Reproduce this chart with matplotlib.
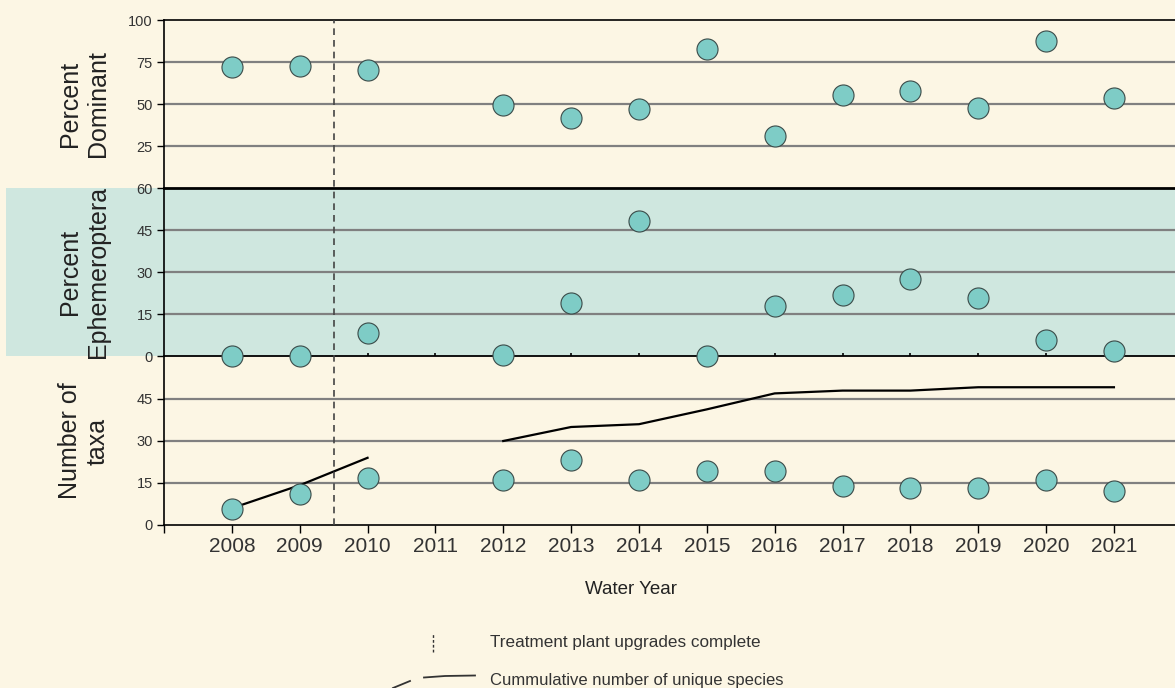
import numpy as np
import matplotlib
matplotlib.use("Agg")
import matplotlib.pyplot as plt
from matplotlib.lines import Line2D
from matplotlib.patches import Rectangle
import matplotlib.transforms as mtransforms

plt.rcParams['font.family'] = ['Liberation Sans', 'DejaVu Sans']

years = [2008, 2009, 2010, 2011, 2012, 2013, 2014, 2015, 2016, 2017, 2018, 2019, 2020, 2021]
pct_dominant = [72, 72.6, 70.2, np.nan, 49.4, 41.7, 47, 82.7, 31, 55.4, 57.7, 47.6, 87.5, 53.6]
pct_ephem = [0, 0, 8.2, np.nan, 0.5, 18.9, 48.2, 0, 17.9, 21.8, 27.5, 20.7, 5.7, 1.8]
num_taxa = [5.7, 11, 16.8, np.nan, 16, 23.2, 16, 19.3, 19.3, 14, 13.2, 13.2, 16, 12.1]
cumulative = [6, 14.2, 24, np.nan, 30, 35, 36, 41.3, 47, 48, 48, 49.2, 49.2, 49.2]

upgrade_year = 2009.5
panel_labels = ["Percent\nDominant", "Percent\nEphemeroptera", "Number of\ntaxa"]
top_ticks = [25, 50, 75, 100]
mid_ticks = [0, 15, 30, 45, 60]
bot_ticks = [0, 15, 30, 45]
legend_labels = ["Treatment plant upgrades complete", "Cummulative number of unique species"]

BG = "#FCF6E4"
TEAL_BG = "#CFE7DF"
MARK = "#7ECCC6"
GRID = "#808080"
TXT = "#333333"
MS = 230

W, H = 1175, 688
fig = plt.figure(figsize=(W / 100, H / 100), dpi=100)
fig.patch.set_facecolor(BG)

def fx(px):
    return px / W

def fy(py):
    return 1 - py / H

left = fx(164)
width = 1 - left
ph = 168 / H
ax_top = fig.add_axes([left, fy(188), width, ph])
ax_mid = fig.add_axes([left, fy(356), width, ph])
ax_bot = fig.add_axes([left, fy(525), width, ph])

# teal band behind middle panel
band = Rectangle((fx(6), fy(356)), 1 - fx(6), ph, transform=fig.transFigure,
                 facecolor=TEAL_BG, edgecolor='none', zorder=-5)
fig.add_artist(band)

xlim = (2007, 2021.9)
for ax in (ax_top, ax_mid, ax_bot):
    ax.set_facecolor('none')
    ax.set_xlim(*xlim)
    ax.spines['right'].set_visible(False)
    ax.spines['left'].set_color('black')
    ax.spines['left'].set_linewidth(1.2)
    ax.tick_params(axis='y', direction='out', length=5, width=1, color='black',
                   labelsize=10.5, labelcolor=TXT, pad=3)

# top panel
ax_top.set_ylim(0, 100)
ax_top.set_yticks(top_ticks)
for v in [25, 50, 75]:
    ax_top.axhline(v, color=GRID, lw=1.6, zorder=1)
ax_top.spines['top'].set_linewidth(1.2)
ax_top.spines['bottom'].set_linewidth(2.0)
ax_top.set_xticks([])
ax_top.scatter(years, pct_dominant, s=MS, facecolor=MARK, edgecolor='#3a4a48',
               linewidth=0.8, zorder=5, clip_on=False)

# middle panel
ax_mid.set_ylim(0, 60)
ax_mid.set_yticks(mid_ticks)
for v in [15, 30, 45]:
    ax_mid.axhline(v, color=GRID, lw=1.6, zorder=1)
ax_mid.spines['top'].set_visible(False)
ax_mid.spines['bottom'].set_linewidth(1.3)
ax_mid.set_xticks(years)
ax_mid.tick_params(axis='x', direction='in', length=2, width=1.2, labelbottom=False)
ax_mid.scatter(years, pct_ephem, s=MS, facecolor=MARK, edgecolor='#3a4a48',
               linewidth=0.8, zorder=5, clip_on=False)

# bottom panel
ax_bot.set_ylim(0, 60)
ax_bot.set_yticks(bot_ticks)
for v in [15, 30, 45]:
    ax_bot.axhline(v, color=GRID, lw=1.6, zorder=1)
ax_bot.spines['top'].set_visible(False)
ax_bot.spines['bottom'].set_linewidth(1.2)
ax_bot.set_xticks([2007] + years)
ax_bot.set_xticklabels([''] + [str(y) for y in years])
ax_bot.tick_params(axis='x', direction='out', length=6, width=1, color='black',
                   labelsize=15, labelcolor=TXT, pad=3)
ax_bot.plot(years, cumulative, color='black', lw=1.6, zorder=3)
ax_bot.scatter(years, num_taxa, s=MS, facecolor=MARK, edgecolor='#3a4a48',
               linewidth=0.8, zorder=5, clip_on=False)

fig.text(fx(631), fy(589), "Water Year", ha='center', va='center', fontsize=13.5, color='#222222')

# dashed vertical line across all panels
tr = mtransforms.blended_transform_factory(ax_bot.transData, fig.transFigure)
fig.add_artist(Line2D([upgrade_year, upgrade_year], [fy(525), fy(20)], transform=tr,
                      color='#444444', lw=1.2, linestyle=(0, (4, 3)), zorder=4))

# y labels
for lab, yc in zip(panel_labels, [104, 272, 441]):
    fig.text(fx(84), fy(yc), lab, rotation=90, ha='center', va='center',
             fontsize=18, color='#222222', multialignment='center', linespacing=1.2)

# legend
fig.add_artist(Line2D([fx(433), fx(433)], [fy(652), fy(633)], transform=fig.transFigure,
                      color='#333333', lw=1.0, linestyle=(0, (2, 1.5))))
fig.text(fx(490), fy(642), legend_labels[0], ha='left', va='center', fontsize=12.3, color='#333333')
fig.add_artist(Line2D([fx(393), fx(410)], [fy(688), fy(681)], transform=fig.transFigure,
                      color='#333333', lw=1.3))
fig.add_artist(Line2D([fx(424), fx(445), fx(475)], [fy(677.5), fy(676), fy(675.5)],
                      transform=fig.transFigure, color='#333333', lw=1.3))
fig.text(fx(490), fy(680), legend_labels[1], ha='left', va='center', fontsize=12, color='#333333')

fig.savefig("out.png", dpi=100, facecolor=BG)
